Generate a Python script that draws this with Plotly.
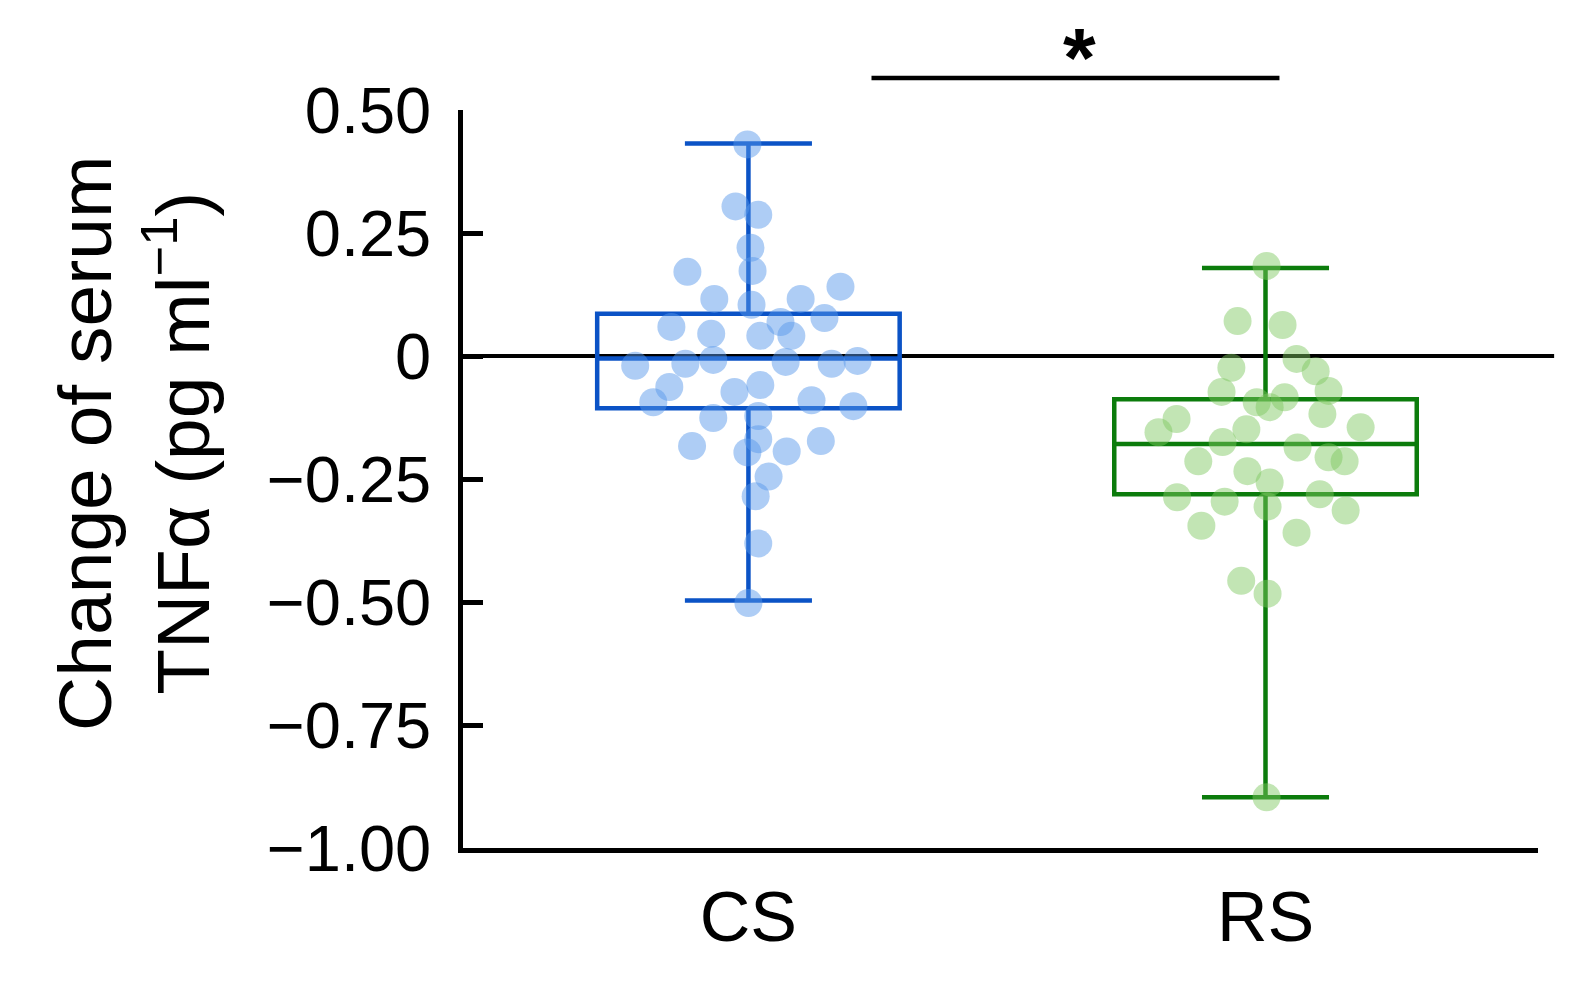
import plotly.graph_objects as go

# groups
groups = ["CS", "RS"]
group_pos = [0, 1]

# box stats (q1, median, q3, whisker ends)
cs_q1, cs_median, cs_q3 = -0.106, -0.005, 0.086
cs_low, cs_high = -0.497, 0.432
rs_q1, rs_median, rs_q3 = -0.281, -0.179, -0.088
rs_low, rs_high = -0.897, 0.179

# individual points: horizontal jitter (category units) and value
cs_jitter = [-0.002, -0.025, 0.019, 0.004, 0.008, -0.118, -0.066, 0.178, 0.101, 0.006,
             0.147, -0.149, -0.072, 0.023, 0.083, 0.062, -0.219, -0.122, -0.068, 0.072,
             0.161, 0.211, -0.153, -0.184, -0.027, 0.023, 0.122, 0.203, -0.068, 0.019,
             0.019, -0.109, 0.074, 0.140, -0.002, 0.039, 0.014, 0.019, 0.0]
cs_values = [0.430, 0.304, 0.287, 0.220, 0.173, 0.171, 0.116, 0.141, 0.116, 0.104,
             0.077, 0.059, 0.045, 0.041, 0.041, 0.069, -0.020, -0.016, -0.008, -0.012,
             -0.016, -0.010, -0.063, -0.094, -0.073, -0.059, -0.090, -0.102, -0.126, -0.122,
             -0.169, -0.183, -0.194, -0.173, -0.196, -0.245, -0.285, -0.381, -0.502]

rs_jitter = [0.002, -0.054, 0.033, 0.060, -0.066, 0.097, -0.085, 0.122, 0.037, -0.017,
             0.008, -0.172, -0.207, 0.110, 0.184, -0.037, -0.083, 0.062, 0.122, 0.153,
             -0.130, -0.035, 0.008, -0.171, -0.079, 0.105, 0.004, 0.155, -0.124, 0.060,
             -0.047, 0.004, 0.002]
rs_values = [0.183, 0.071, 0.063, -0.006, -0.024, -0.031, -0.073, -0.071, -0.084, -0.094,
             -0.104, -0.128, -0.155, -0.118, -0.145, -0.149, -0.175, -0.186, -0.206, -0.214,
             -0.214, -0.234, -0.257, -0.287, -0.296, -0.281, -0.306, -0.314, -0.345, -0.359,
             -0.457, -0.483, -0.897]

y_tickvals = [0.5, 0.25, 0, -0.25, -0.5, -0.75, -1.0]
y_ticktext = ["0.50", "0.25", "0", "\u22120.25", "\u22120.50", "\u22120.75", "\u22121.00"]

cs_line = "#0b53c6"
rs_line = "#0c7c0c"
cs_dot = "rgba(85,150,235,0.48)"
rs_dot = "rgba(125,200,95,0.47)"
font = "Liberation Sans"

fig = go.Figure()

fig.add_trace(go.Scatter(x=[group_pos[0] + j for j in cs_jitter], y=cs_values,
                         mode="markers", marker=dict(size=28, color=cs_dot),
                         showlegend=False, hoverinfo="y"))
fig.add_trace(go.Scatter(x=[group_pos[1] + j for j in rs_jitter], y=rs_values,
                         mode="markers", marker=dict(size=28, color=rs_dot),
                         showlegend=False, hoverinfo="y"))

for pos, q1, med, q3, lo, hi, col in [
        (group_pos[0], cs_q1, cs_median, cs_q3, cs_low, cs_high, cs_line),
        (group_pos[1], rs_q1, rs_median, rs_q3, rs_low, rs_high, rs_line)]:
    fig.add_trace(go.Box(x=[pos], q1=[q1], median=[med], q3=[q3],
                         lowerfence=[lo], upperfence=[hi],
                         width=0.585, whiskerwidth=0.42, boxpoints=False,
                         line=dict(color=col, width=4.5),
                         fillcolor="rgba(0,0,0,0)", showlegend=False))

# zero reference line
fig.add_shape(type="line", xref="paper", yref="y", x0=0, x1=1.015, y0=0, y1=0,
              line=dict(color="black", width=4), layer="below")

# significance bar
fig.add_shape(type="line", xref="x", yref="paper", x0=0.238, x1=1.027,
              y0=1.0434, y1=1.0434, line=dict(color="black", width=4.5))
fig.add_annotation(x=0.64, y=1.071, xref="x", yref="paper", text="<b>*</b>",
                   showarrow=False, font=dict(family=font, size=84, color="black"),
                   yanchor="middle")

# y title
fig.add_annotation(x=-0.306, y=0.5476, xref="paper", yref="paper",
                   text="Change of serum<br>TNF\u03b1 (pg ml<sup>\u22121</sup>)",
                   textangle=-90, showarrow=False,
                   font=dict(family=font, size=75, color="black"),
                   xanchor="center", yanchor="middle")

# page body has an 8px margin, so the figure is 8px smaller than the window
fig.update_layout(
    width=1580, height=983,
    margin=dict(l=455, r=50, t=102, b=143),
    paper_bgcolor="white", plot_bgcolor="white",
    font=dict(family=font, color="black"),
    showlegend=False,
)
fig.update_xaxes(range=[-0.552, 1.527], tickvals=group_pos, ticktext=groups,
                 showline=True, linewidth=4.5, linecolor="black", ticks="",
                 showgrid=False, zeroline=False,
                 tickfont=dict(family=font, size=70, color="black"),
                 ticklabelstandoff=4)
fig.update_yaxes(range=[-1.0, 0.5], tickvals=y_tickvals, ticktext=y_ticktext,
                 showline=True, linewidth=4.5, linecolor="black",
                 ticks="inside", ticklen=20, tickwidth=4.5, tickcolor="black",
                 showgrid=False, zeroline=False,
                 tickfont=dict(family=font, size=65, color="black"),
                 ticklabelstandoff=14)

fig.write_html("out.html")
